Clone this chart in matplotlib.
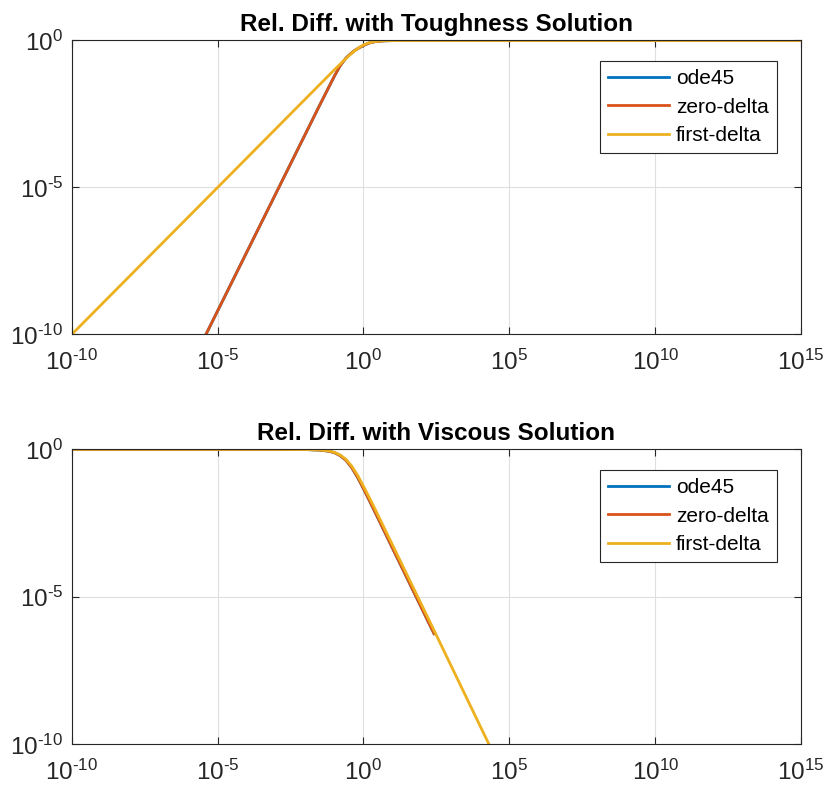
import numpy as np
import matplotlib
matplotlib.use("Agg")
import matplotlib.pyplot as plt
from matplotlib.ticker import FixedLocator, FuncFormatter, NullLocator

plt.rcParams['font.family'] = ['Liberation Sans', 'DejaVu Sans']
plt.rcParams['mathtext.fontset'] = 'custom'
plt.rcParams['mathtext.rm'] = 'Liberation Sans'
plt.rcParams['mathtext.it'] = 'Liberation Sans'
plt.rcParams['mathtext.bf'] = 'Liberation Sans:bold'
plt.rcParams['axes.unicode_minus'] = False

# values, as log10 exponents
# top panel: relative difference with toughness solution
zd_top_x = [-5.6, -2.9, -1.5, -1.0, -0.8, -0.6, -0.45, -0.3, -0.15, 0.0, 0.2, 0.4, 0.7, 1.2, 15.0]
zd_top_y = [-10.4, -5.0, -2.2, -1.22, -0.86, -0.6, -0.46, -0.34, -0.25, -0.17, -0.085, -0.04, -0.012, -0.002, 0.0]
fd_top_x = [-10.0, -5.0, -2.0, -1.0, -0.7, -0.5, -0.3, -0.15, 0.0, 0.2, 0.4, 0.7, 1.2, 15.0]
fd_top_y = [-10.0, -5.0, -2.0, -1.0, -0.71, -0.52, -0.35, -0.24, -0.15, -0.075, -0.035, -0.01, -0.002, 0.0]
# ode45 sits under zero-delta everywhere
ode_top_x = zd_top_x
ode_top_y = zd_top_y

# bottom panel: relative difference with viscous solution
zd_bot_x = [-10.0, -3.0, -2.0, -1.5, -1.2, -1.0, -0.8, -0.6, -0.4, -0.2, 0.0, 0.3, 1.0, 2.42]
zd_bot_y = [0.0, 0.0, -0.006, -0.025, -0.06, -0.11, -0.21, -0.37, -0.62, -0.95, -1.33, -1.93, -3.36, -6.25]
fd_bot_x = [-10.0, -3.0, -2.0, -1.5, -1.2, -1.0, -0.8, -0.6, -0.4, -0.2, 0.0, 0.3, 1.0, 2.45, 4.35]
fd_bot_y = [0.0, 0.0, -0.005, -0.02, -0.05, -0.1, -0.19, -0.34, -0.57, -0.88, -1.25, -1.83, -3.25, -6.2, -10.1]
ode_bot_x = zd_bot_x
ode_bot_y = zd_bot_y

labels = ['ode45', 'zero-delta', 'first-delta']
colors = ['#0072BD', '#D95319', '#EDB120']
titles = ['Rel. Diff. with Toughness Solution', 'Rel. Diff. with Viscous Solution']
xticks = [-10, -5, 0, 5, 10, 15]
yticks = [-10, -5, 0]

panels = [
    [(ode_top_x, ode_top_y), (zd_top_x, zd_top_y), (fd_top_x, fd_top_y)],
    [(ode_bot_x, ode_bot_y), (zd_bot_x, zd_bot_y), (fd_bot_x, fd_bot_y)],
]

fig = plt.figure(figsize=(8.27, 7.9), dpi=100)
ax_rects = [[0.0867, 0.5766, 0.882, 0.3722], [0.0867, 0.0578, 0.882, 0.3734]]
axcol = '#262626'


def pow_fmt(v, pos):
    e = int(round(np.log10(v)))
    sign = r'\text{-}' if e < 0 else ''
    return r'$\mathregular{10^{%s%d}}$' % (sign, abs(e))


for rect, series, title in zip(ax_rects, panels, titles):
    ax = fig.add_axes(rect)
    for (lx, ly), lab, c in zip(series, labels, colors):
        ax.plot(10.0 ** np.array(lx), 10.0 ** np.array(ly), color=c, lw=2, label=lab)
    ax.set_xscale('log')
    ax.set_yscale('log')
    ax.set_xlim(1e-10, 1e15)
    ax.set_ylim(1e-10, 1e0)
    ax.xaxis.set_major_locator(FixedLocator([10.0 ** t for t in xticks]))
    ax.yaxis.set_major_locator(FixedLocator([10.0 ** t for t in yticks]))
    ax.xaxis.set_minor_locator(NullLocator())
    ax.yaxis.set_minor_locator(NullLocator())
    ax.xaxis.set_major_formatter(FuncFormatter(pow_fmt))
    ax.yaxis.set_major_formatter(FuncFormatter(pow_fmt))
    ax.tick_params(which='both', direction='in', top=True, right=True, length=5,
                   width=0.8, color=axcol, labelsize=17.5, labelcolor='#262626', pad=6)
    ax.tick_params(axis='x', pad=11)
    ax.grid(True, color='#dfdfdf', lw=0.8)
    ax.set_axisbelow(True)
    for sp in ax.spines.values():
        sp.set_color(axcol)
        sp.set_linewidth(0.8)
    ax.set_title(title, fontsize=17.5, fontweight='bold', pad=7)
    leg = ax.legend(loc='upper right', bbox_to_anchor=(0.967, 0.930), borderaxespad=0,
                    fontsize=15, fancybox=False, framealpha=1, edgecolor=axcol,
                    handlelength=2.9, handletextpad=0.35, labelspacing=0.45, borderpad=0.4)
    leg.get_frame().set_linewidth(0.8)

fig.savefig('out.png', dpi=100)
